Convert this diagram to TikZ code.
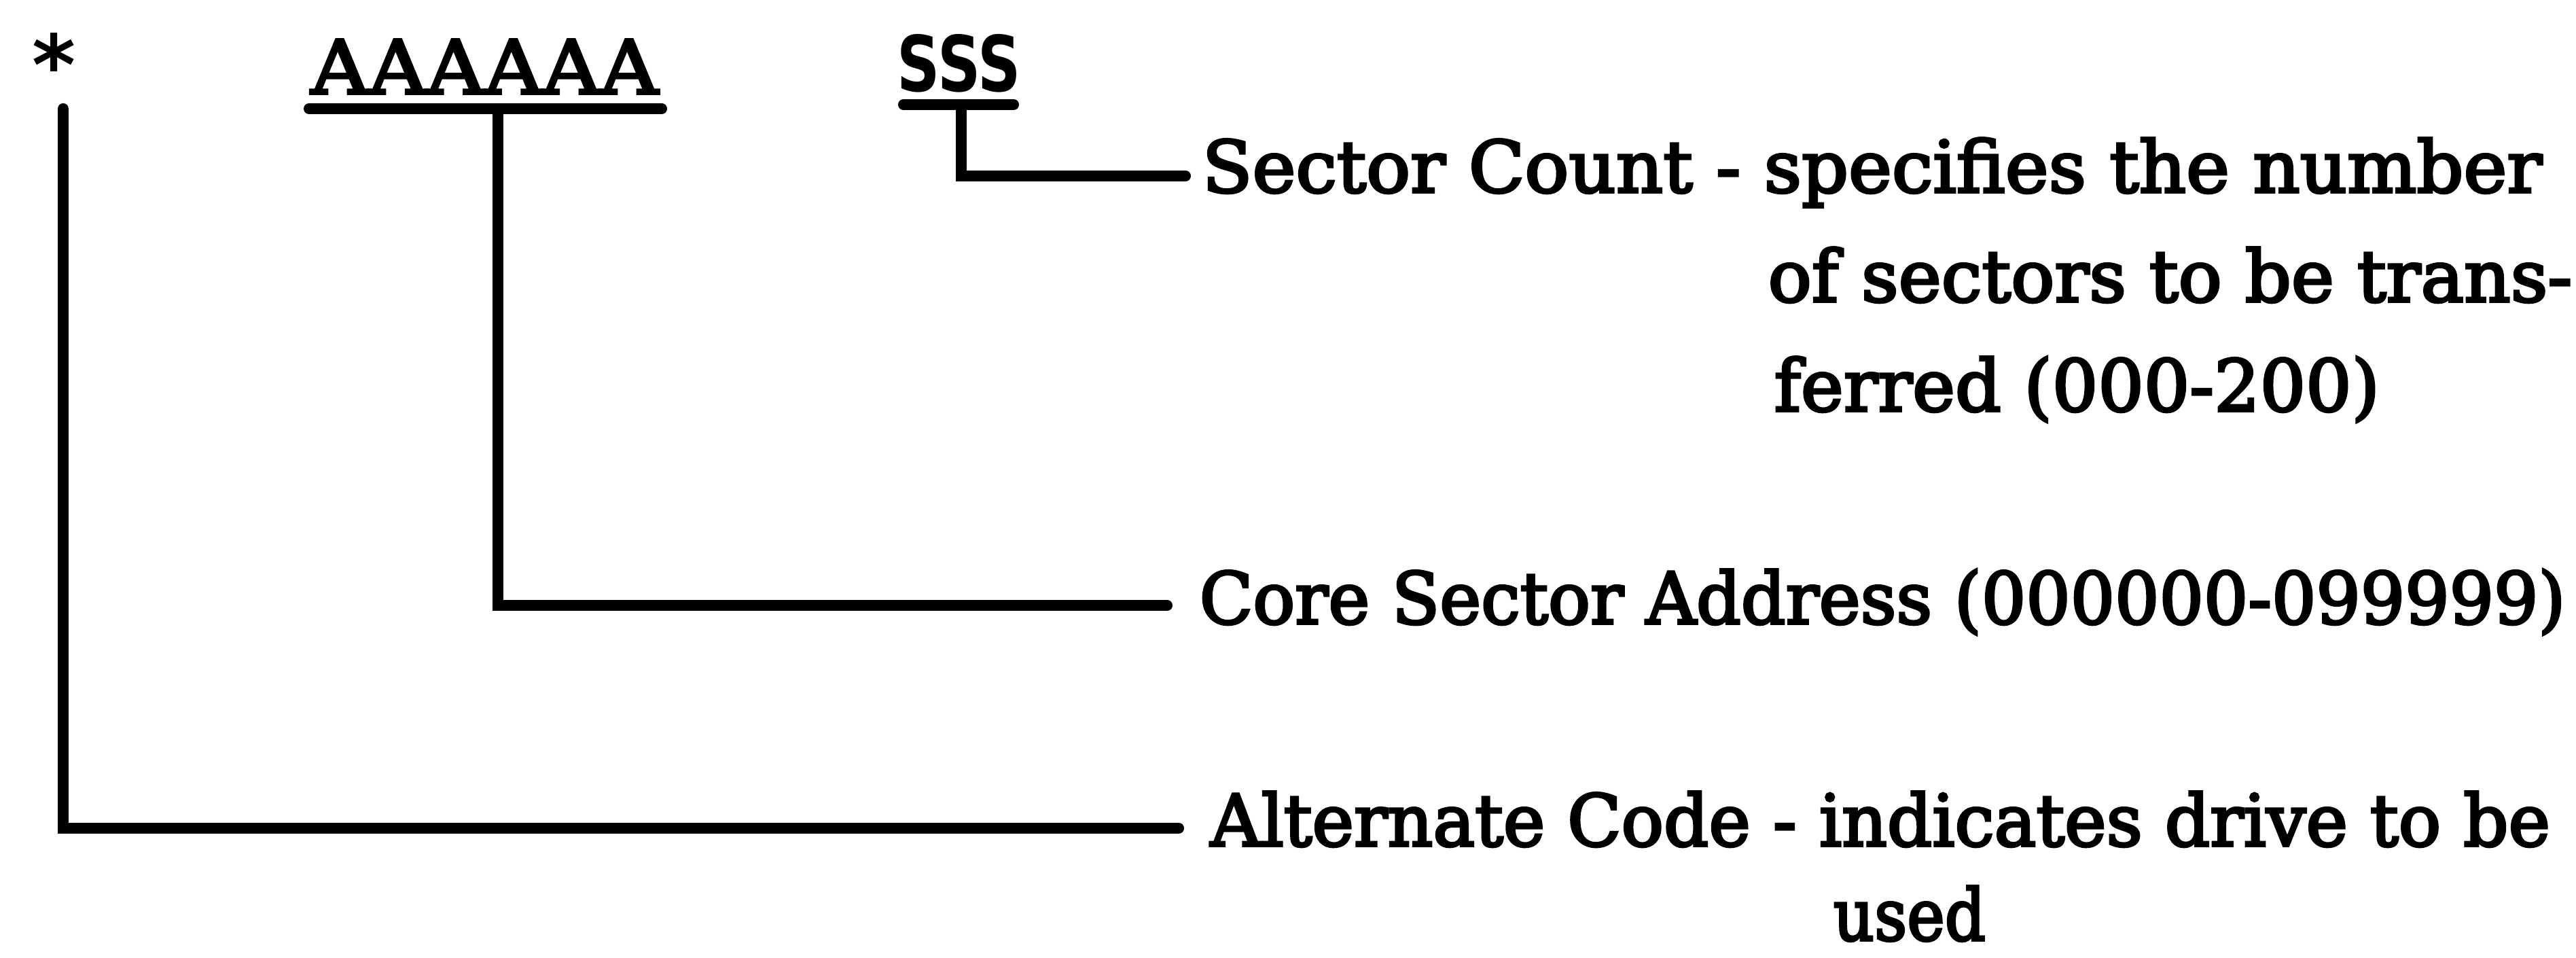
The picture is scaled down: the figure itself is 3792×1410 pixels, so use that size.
\documentclass[tikz,border=0pt]{standalone}
\usepackage{fontspec}
\usepackage{graphicx}
\setmainfont{DejaVu Serif}
\newfontfamily\heavy{DejaVu Serif}[FakeBold=3.5]
\newfontfamily\sansf{DejaVu Sans}
\newcommand{\fitline}[2]{\resizebox{#1}{0.80cm}{\heavy #2}}
\begin{document}
\begin{tikzpicture}[x=0.01cm,y=-0.01cm,
  lbl/.style={anchor=base west,inner sep=0pt,font=\fontsize{30}{36}\selectfont},
  conn/.style={line width=0.16cm,line cap=round,line join=miter}]
\useasboundingbox[fill=white] (0,0) rectangle (3792,1410);
% field symbols
\node[inner sep=0pt] (star) at (80,94) {\resizebox{0.64cm}{!}{\sansf\bfseries *}};
\node[anchor=base west,inner sep=0pt] (aaa) at (457,138) {\resizebox{5.11cm}{0.80cm}{\heavy AAAAAA}};
\node[anchor=base west,inner sep=0pt] (sss) at (1320,135) {\resizebox{1.82cm}{0.84cm}{\sansf\bfseries SSS}};
% descriptions
\node[lbl] (t1) at (1769,283) {\fitline{19.71cm}{Sector Count - specifies the number}};
\node[lbl] (t2) at (2602,444) {\fitline{11.83cm}{of sectors to be trans-}};
\node[lbl] (t3) at (2611,605) {\fitline{8.91cm}{ferred (000-200)}};
\node[lbl] (t4) at (1765,918) {\fitline{20.10cm}{Core Sector Address (000000-099999)}};
\node[lbl] (t5) at (1781,1245) {\fitline{19.71cm}{Alternate Code - indicates drive to be}};
\node[lbl] (t6) at (2698,1384) {\fitline{2.24cm}{used}};
% connector points
\coordinate (sUL) at (1330,154);
\coordinate (sUR) at (1492,154);
\coordinate (sStem) at (1415,154);
\coordinate (sEnd) at (1745,259);
\coordinate (aUL) at (455,160);
\coordinate (aUR) at (974,160);
\coordinate (aStem) at (733,160);
\coordinate (aEnd) at (1718,891);
\coordinate (starStem) at (93,160);
\coordinate (starEnd) at (1735,1219);
% connectors
\draw[conn] (sUL) -- (sUR);
\draw[conn] (sStem) |- (sEnd);
\draw[conn] (aUL) -- (aUR);
\draw[conn] (aStem) |- (aEnd);
\draw[conn] (starStem) |- (starEnd);
\end{tikzpicture}
\end{document}
